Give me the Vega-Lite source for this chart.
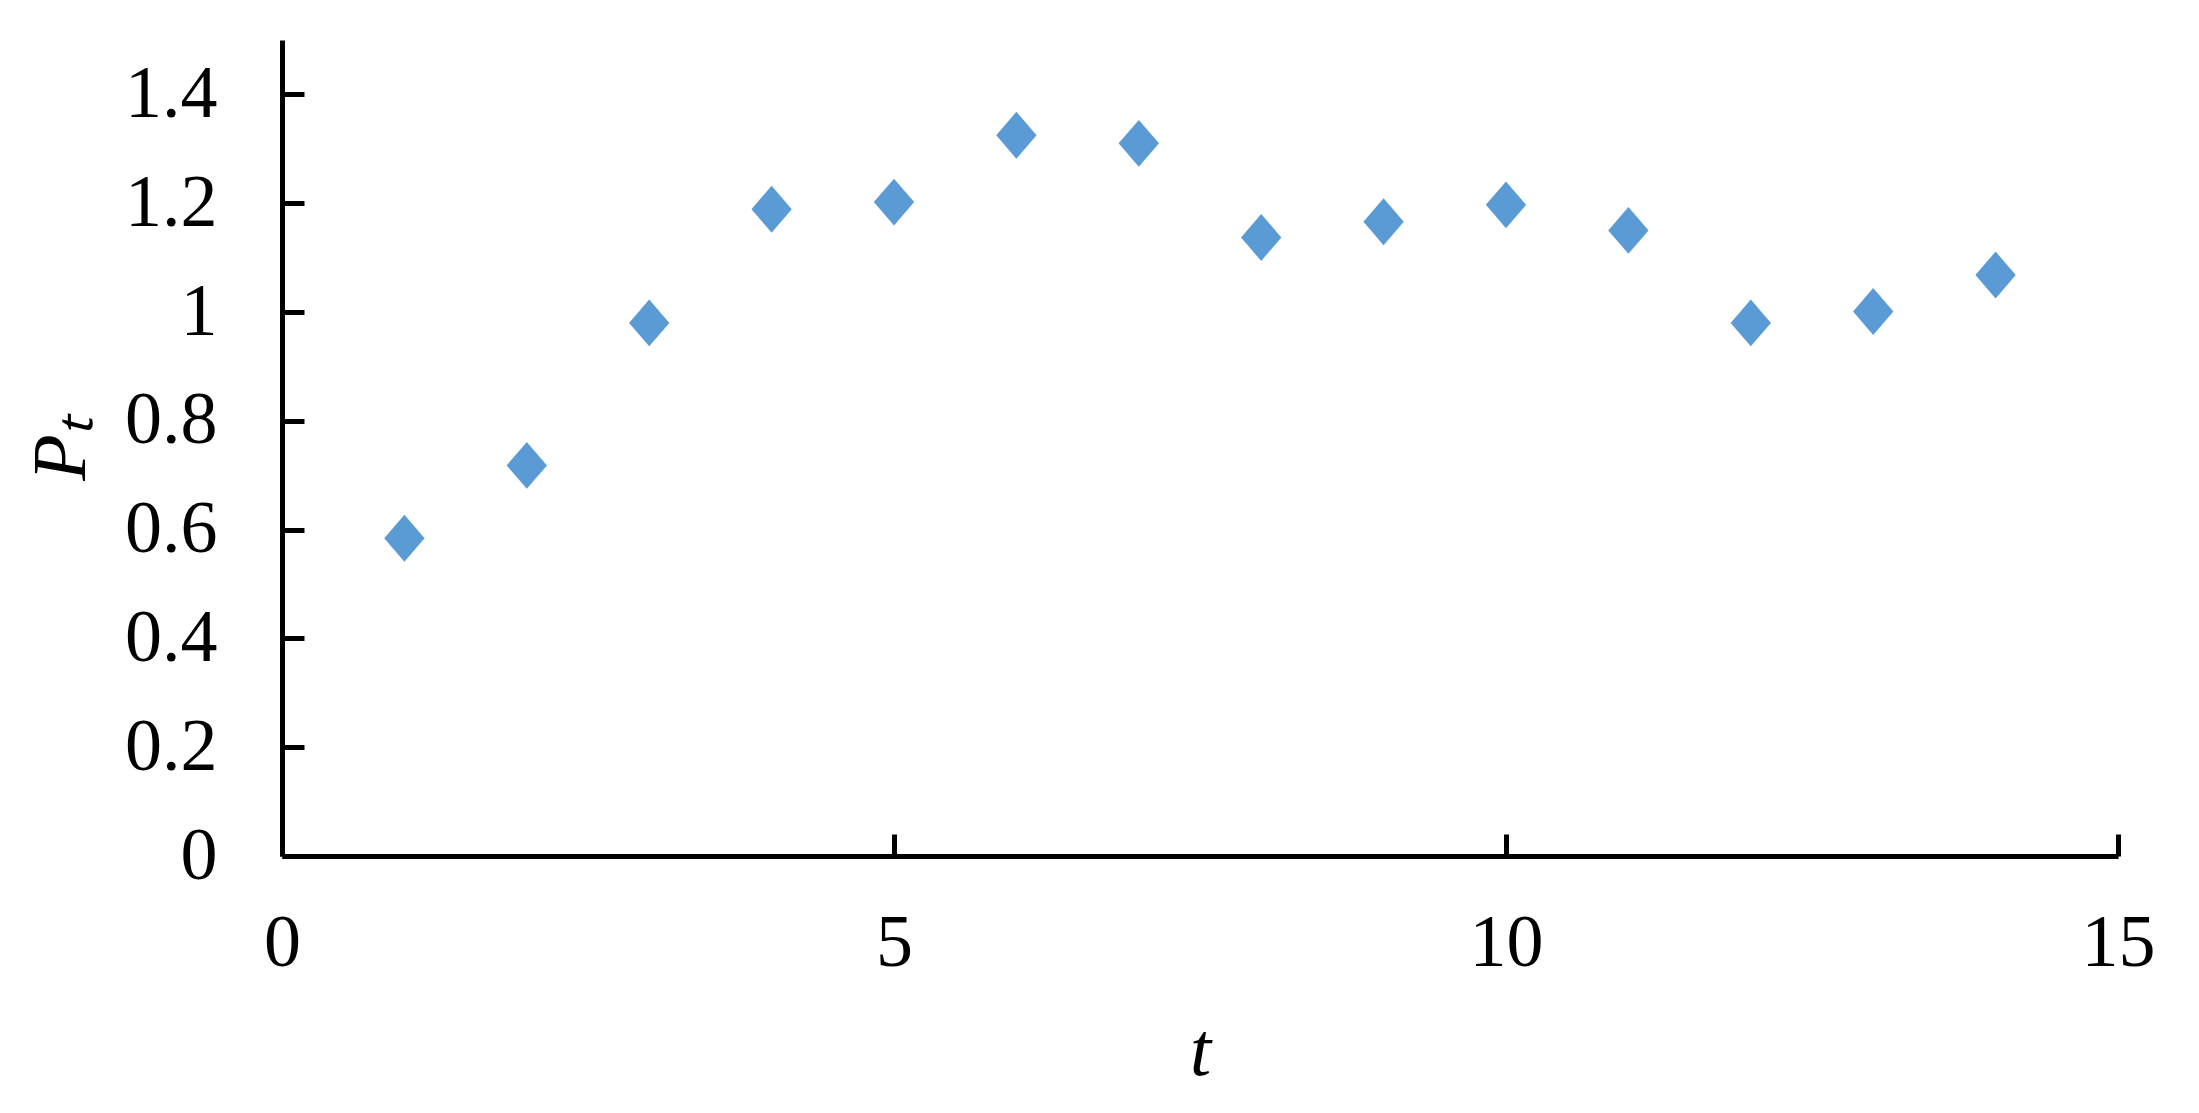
{
  "$schema": "https://vega.github.io/schema/vega-lite/v6.json",
  "width": 1836,
  "height": 816,
  "autosize": "none",
  "padding": {"left": 282, "top": 40, "right": 81, "bottom": 257},
  "background": "white",
  "config": {"view": {"stroke": null}},
  "data": {"values": [
    {"t": 1, "P": 0.584},
    {"t": 2, "P": 0.718},
    {"t": 3, "P": 0.980},
    {"t": 4, "P": 1.189},
    {"t": 5, "P": 1.202},
    {"t": 6, "P": 1.325},
    {"t": 7, "P": 1.310},
    {"t": 8, "P": 1.137},
    {"t": 9, "P": 1.166},
    {"t": 10, "P": 1.197},
    {"t": 11, "P": 1.150},
    {"t": 12, "P": 0.980},
    {"t": 13, "P": 1.001},
    {"t": 14, "P": 1.068}
  ]},
  "mark": {"type": "point", "shape": "M0,-1L0.86,0L0,1L-0.86,0Z", "filled": true, "size": 2200, "color": "#5B9BD5", "opacity": 1},
  "encoding": {
    "x": {"field": "t", "type": "quantitative",
      "scale": {"domain": [0, 15], "nice": false, "zero": false},
      "axis": {"values": [0, 5, 10, 15], "grid": false, "title": "t", "format": "~g",
        "domainColor": "black", "domainWidth": 5, "tickColor": "black", "tickWidth": 5, "tickSize": -22,
        "labelFont": "Liberation Serif", "labelFontSize": 74, "labelColor": "black", "labelPadding": 73,
        "labelFlush": false, "labelOverlap": false,
        "titleFont": "Liberation Serif", "titleFontStyle": "italic", "titleFontWeight": "normal", "titleFontSize": 76, "titleColor": "black", "titlePadding": 34}},
    "y": {"field": "P", "type": "quantitative",
      "scale": {"domain": [0, 1.5], "nice": false},
      "axis": {"values": [0, 0.2, 0.4, 0.6, 0.8, 1, 1.2, 1.4], "grid": false, "title": "Pₜ", "format": "~g",
        "domainColor": "black", "domainWidth": 5, "tickColor": "black", "tickWidth": 5, "tickSize": -22,
        "labelFont": "Liberation Serif", "labelFontSize": 74, "labelColor": "black", "labelPadding": 87,
        "labelFlush": false, "labelOverlap": false,
        "titleFont": "Liberation Serif", "titleFontStyle": "italic", "titleFontWeight": "normal", "titleFontSize": 76, "titleColor": "black", "titlePadding": 24}}
  }
}
